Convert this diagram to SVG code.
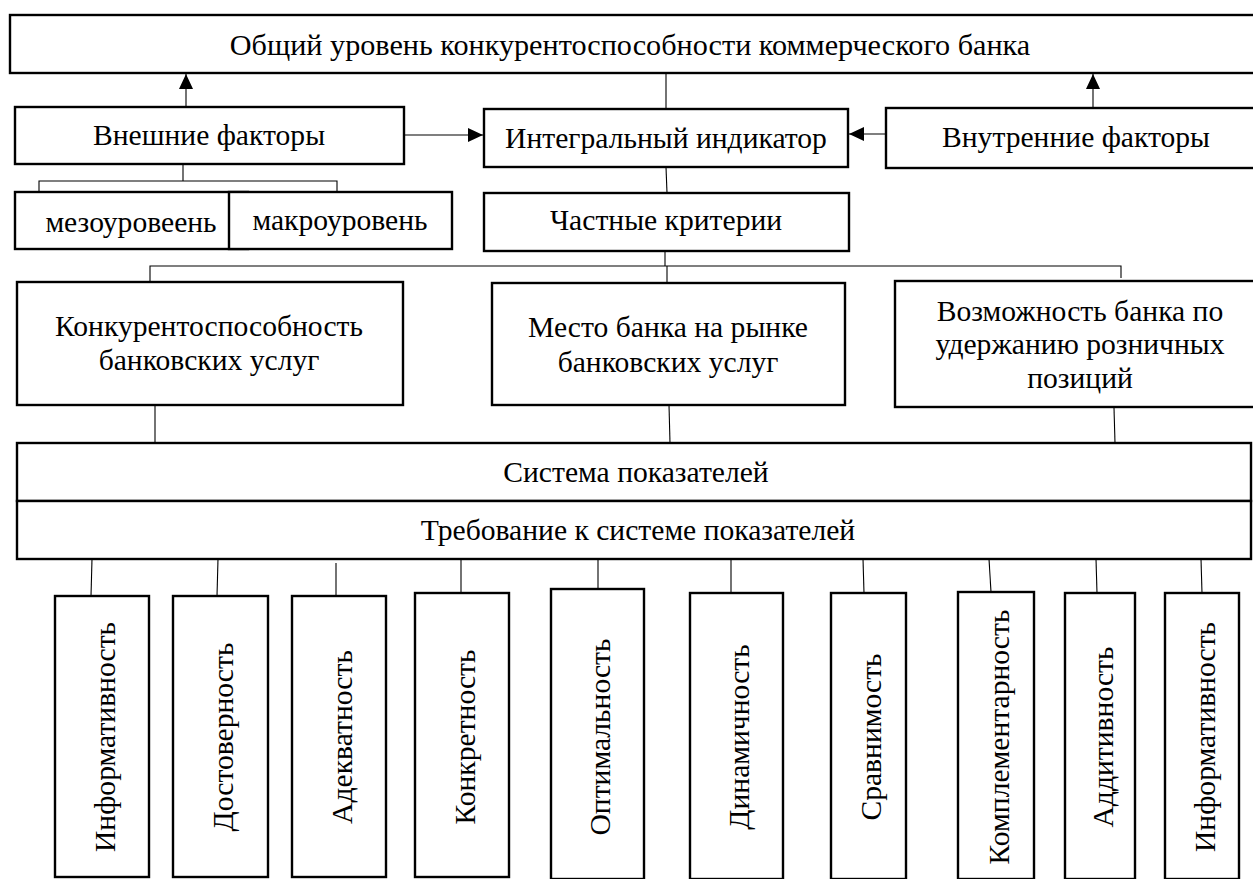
<svg xmlns="http://www.w3.org/2000/svg" width="1253" height="879" viewBox="0 0 1253 879">
<defs>
<marker id="ah" markerUnits="userSpaceOnUse" markerWidth="16" markerHeight="14" refX="15" refY="7" orient="auto">
<path d="M0,0 L15,7 L0,14 Z" fill="#000"/>
</marker>
<style>
.box{fill:#fff;stroke:#000;stroke-width:2.4}
.ln{fill:none;stroke:#000;stroke-width:1.1}
.t{font-family:"Liberation Serif","Times New Roman",serif;font-size:29.6px;fill:#000;text-anchor:middle}
</style>
</defs>
<rect width="1253" height="879" fill="#fff"/>
<g id="connectors">
<line class="ln" x1="186" y1="107" x2="186" y2="74" marker-end="url(#ah)"/>
<line class="ln" x1="1093" y1="108" x2="1093" y2="74" marker-end="url(#ah)"/>
<line class="ln" x1="404" y1="135" x2="483" y2="135" marker-end="url(#ah)"/>
<line class="ln" x1="886" y1="134" x2="849" y2="134" marker-end="url(#ah)"/>
<line class="ln" x1="666" y1="73" x2="666" y2="109"/>
<line class="ln" x1="666" y1="167" x2="667" y2="193"/>
<polyline class="ln" points="183,164 183,181"/>
<polyline class="ln" points="39,192 39,181 337,181 337,192"/>
<line class="ln" x1="665" y1="251" x2="665" y2="266"/>
<polyline class="ln" points="150,282 150,266 1121,266 1121,278"/>
<line class="ln" x1="667" y1="266" x2="667" y2="283"/>
<line class="ln" x1="155" y1="405" x2="155" y2="443"/>
<line class="ln" x1="669" y1="405" x2="670" y2="443"/>
<line class="ln" x1="1114" y1="408" x2="1115" y2="443"/>
<line class="ln" x1="92" y1="559" x2="91" y2="596"/>
<line class="ln" x1="218" y1="559" x2="217" y2="596"/>
<line class="ln" x1="336" y1="563" x2="336" y2="596"/>
<line class="ln" x1="461" y1="559" x2="461" y2="593"/>
<line class="ln" x1="598" y1="559" x2="598" y2="589"/>
<line class="ln" x1="731" y1="559" x2="731" y2="593"/>
<line class="ln" x1="863" y1="559" x2="864" y2="593"/>
<line class="ln" x1="989" y1="559" x2="991" y2="592"/>
<line class="ln" x1="1096" y1="559" x2="1097" y2="593"/>
<line class="ln" x1="1201" y1="559" x2="1202" y2="593"/>
</g>
<g id="n-top"><rect class="box" x="10" y="15" width="1260" height="58"/><text class="t" x="630" y="55" style="font-size:30.2px">Общий уровень конкурентоспособности коммерческого банка</text></g>
<g id="n-ext"><rect class="box" x="15" y="107" width="389" height="57"/><text class="t" x="209" y="145">Внешние факторы</text></g>
<g id="n-int"><rect class="box" x="484" y="109" width="364" height="58"/><text class="t" x="666" y="148">Интегральный индикатор</text></g>
<g id="n-inn"><rect class="box" x="886" y="108" width="380" height="60"/><text class="t" x="1076" y="147">Внутренние факторы</text></g>
<g id="n-meso"><rect class="box" x="15" y="192" width="233" height="57"/><text class="t" x="131" y="232">мезоуровеень</text></g>
<g id="n-macro"><rect class="box" x="229" y="192" width="223" height="57"/><text class="t" x="340" y="230">макроуровень</text></g>
<g id="n-crit"><rect class="box" x="484" y="193" width="365" height="58"/><text class="t" x="666" y="230">Частные критерии</text></g>
<g id="n-k1"><rect class="box" x="17" y="282" width="386" height="123"/><text class="t" x="209" y="336">Конкурентоспособность</text><text class="t" x="209" y="370">банковских услуг</text></g>
<g id="n-k2"><rect class="box" x="492" y="283" width="353" height="122"/><text class="t" x="668" y="337">Место банка на рынке</text><text class="t" x="668" y="372">банковских услуг</text></g>
<g id="n-k3"><rect class="box" x="895" y="281" width="370" height="126"/><text class="t" x="1080" y="321">Возможность банка по</text><text class="t" x="1080" y="354">удержанию розничных</text><text class="t" x="1080" y="388">позиций</text></g>
<g id="n-sys"><rect class="box" x="17" y="443" width="1234" height="58"/><text class="t" x="636" y="482">Система показателей</text></g>
<g id="n-req"><rect class="box" x="17" y="501" width="1234" height="58"/><text class="t" x="638" y="540">Требование к системе показателей</text></g>
<g id="n-b1"><rect class="box" x="55" y="596" width="94" height="281"/><text class="t" transform="translate(115,737) rotate(-90)">Информативность</text></g>
<g id="n-b2"><rect class="box" x="173" y="596" width="95" height="281"/><text class="t" transform="translate(233,737) rotate(-90)">Достоверность</text></g>
<g id="n-b3"><rect class="box" x="292" y="596" width="94" height="281"/><text class="t" transform="translate(352,737) rotate(-90)">Адекватность</text></g>
<g id="n-b4"><rect class="box" x="415" y="593" width="94" height="284"/><text class="t" transform="translate(475,737) rotate(-90)">Конкретность</text></g>
<g id="n-b5"><rect class="box" x="551" y="589" width="93" height="290"/><text class="t" transform="translate(610,737) rotate(-90)">Оптимальность</text></g>
<g id="n-b6"><rect class="box" x="690" y="593" width="93" height="286"/><text class="t" transform="translate(749,737) rotate(-90)">Динамичность</text></g>
<g id="n-b7"><rect class="box" x="831" y="593" width="75" height="286"/><text class="t" transform="translate(881,737) rotate(-90)">Сравнимость</text></g>
<g id="n-b8"><rect class="box" x="958" y="592" width="76" height="287"/><text class="t" transform="translate(1009,737) rotate(-90)">Комплементарность</text></g>
<g id="n-b9"><rect class="box" x="1065" y="593" width="70" height="286"/><text class="t" transform="translate(1113,737) rotate(-90)">Аддитивность</text></g>
<g id="n-b10"><rect class="box" x="1165" y="593" width="74" height="286"/><text class="t" transform="translate(1215,737) rotate(-90)">Информативность</text></g>
</svg>
